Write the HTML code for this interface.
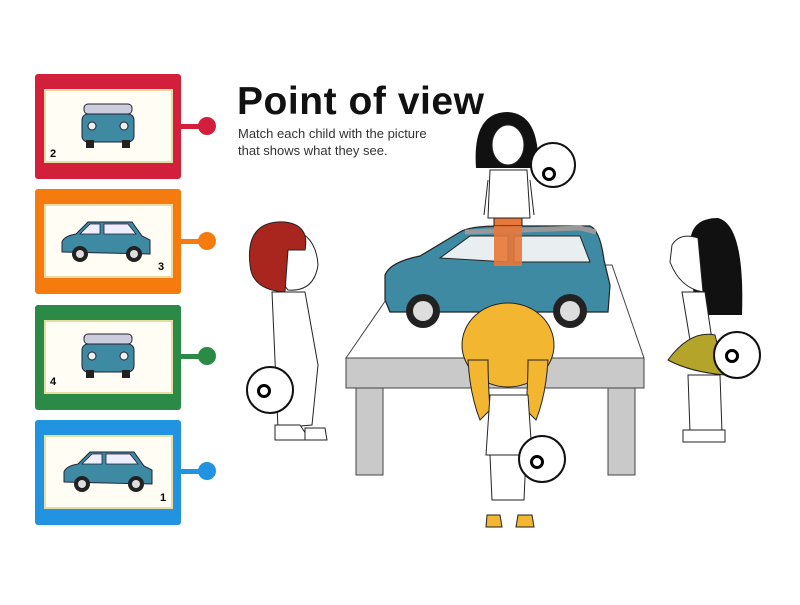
<!DOCTYPE html>
<html><head><style>
body{margin:0;width:800px;height:600px;background:#fff;overflow:hidden;font-family:"Liberation Sans",sans-serif}
</style></head><body>
<svg width="800" height="600" xmlns="http://www.w3.org/2000/svg" font-family="Liberation Sans, sans-serif">
<defs>
<g id="carS">
 <path d="M-44,8 L-44,-2 Q-42,-8 -30,-10 L-18,-22 L26,-22 L36,-8 L44,-4 L44,10 Z" fill="#3f8aa3" stroke="#223" stroke-width="1"/>
 <path d="M-16,-20 L-6,-20 L-6,-10 L-26,-10Z M-2,-20 L22,-20 L30,-10 L-2,-10Z" fill="#eef" stroke="#223" stroke-width="0.8"/>
 <circle cx="-26" cy="10" r="8" fill="#222"/><circle cx="-26" cy="10" r="4" fill="#ddd"/>
 <circle cx="28" cy="10" r="8" fill="#222"/><circle cx="28" cy="10" r="4" fill="#ddd"/>
</g>
<g id="carF">
 <rect x="-24" y="-24" width="48" height="10" rx="4" fill="#ccd" stroke="#223"/>
 <rect x="-26" y="-14" width="52" height="28" rx="6" fill="#3f8aa3" stroke="#223"/>
 <rect x="-22" y="12" width="8" height="8" fill="#222"/><rect x="14" y="12" width="8" height="8" fill="#222"/>
 <circle cx="-16" cy="-2" r="4" fill="#eee" stroke="#223"/><circle cx="16" cy="-2" r="4" fill="#eee" stroke="#223"/>
</g>
</defs>

<!-- cards -->
<g>
 <rect x="35" y="74" width="146" height="105" rx="3" fill="#d21f3c"/>
 <rect x="45" y="90" width="127" height="72" fill="#fffdf4" stroke="#e8dca0" stroke-width="2"/>
 <use href="#carF" x="108" y="128"/>
 <text x="50" y="157" font-size="11" font-weight="bold">2</text>
 <rect x="181" y="124" width="22" height="5" fill="#d21f3c"/><circle cx="207" cy="126" r="9" fill="#d21f3c"/>

 <rect x="35" y="189" width="146" height="105" rx="3" fill="#f57b0f"/>
 <rect x="45" y="205" width="127" height="72" fill="#fffdf4" stroke="#e8dca0" stroke-width="2"/>
 <use href="#carS" x="106" y="244"/>
 <text x="158" y="270" font-size="11" font-weight="bold">3</text>
 <rect x="181" y="239" width="22" height="5" fill="#f57b0f"/><circle cx="207" cy="241" r="9" fill="#f57b0f"/>

 <rect x="35" y="305" width="146" height="105" rx="3" fill="#2b8a45"/>
 <rect x="45" y="321" width="127" height="72" fill="#fffdf4" stroke="#e8dca0" stroke-width="2"/>
 <use href="#carF" x="108" y="358"/>
 <text x="50" y="385" font-size="11" font-weight="bold">4</text>
 <rect x="181" y="354" width="22" height="5" fill="#2b8a45"/><circle cx="207" cy="356" r="9" fill="#2b8a45"/>

 <rect x="35" y="420" width="146" height="105" rx="3" fill="#2293e0"/>
 <rect x="45" y="436" width="127" height="72" fill="#fffdf4" stroke="#e8dca0" stroke-width="2"/>
 <use href="#carS" x="108" y="474"/>
 <text x="160" y="501" font-size="11" font-weight="bold">1</text>
 <rect x="181" y="469" width="22" height="5" fill="#2293e0"/><circle cx="207" cy="471" r="9" fill="#2293e0"/>
</g>

<!-- title -->
<text x="237" y="114" font-size="39" font-weight="bold" fill="#111" textLength="247">Point of view</text>
<text x="238" y="138" font-size="13" fill="#333">Match each child with the picture</text>
<text x="238" y="155" font-size="13" fill="#333">that shows what they see.</text>

<!-- table -->
<polygon points="410,265 612,265 644,358 346,358" fill="#fff" stroke="#444" stroke-width="1"/>
<rect x="346" y="358" width="298" height="30" fill="#c9c9c9" stroke="#444"/>
<rect x="356" y="388" width="27" height="87" fill="#c9c9c9" stroke="#444"/>
<rect x="608" y="388" width="27" height="87" fill="#c9c9c9" stroke="#444"/>

<!-- top girl -->
<path d="M476,168 Q472,112 508,112 Q540,114 538,168 Z" fill="#111"/>
<ellipse cx="508" cy="145" rx="16" ry="20" fill="#fff" stroke="#222"/>
<path d="M490,170 L527,170 L530,218 L488,218Z" fill="#fff" stroke="#222"/>
<path d="M488,180 L484,215 M530,180 L534,215" stroke="#222" fill="none"/>
<rect x="494" y="218" width="28" height="48" fill="#e8773a" stroke="#222"/>

<!-- car -->
<path d="M385,300 L385,275 Q390,262 420,256 L460,232 Q470,226 500,226 L590,226 Q600,230 604,260 L610,285 L608,312 L390,312 Z" fill="#3f8aa3" stroke="#222" stroke-width="1.2"/>
<path d="M465,232 L580,228 L596,232" fill="none" stroke="#999" stroke-width="5"/>
<path d="M440,258 L470,236 L508,236 L508,262 Z M514,236 L580,236 L590,262 L514,262Z" fill="#e9eef0" stroke="#222"/>
<rect x="494" y="226" width="28" height="40" fill="#e8773a" opacity="0.9"/>
<circle cx="423" cy="311" r="17" fill="#222"/><circle cx="423" cy="311" r="10" fill="#ddd"/>
<circle cx="570" cy="311" r="17" fill="#222"/><circle cx="570" cy="311" r="10" fill="#ddd"/>

<!-- boy left -->
<path d="M286,228 Q316,232 318,265 Q314,292 288,290 Q270,270 286,228Z" fill="#fff" stroke="#222"/>
<path d="M250,265 Q245,220 285,222 Q310,225 305,250 L288,250 L285,292 Q252,290 250,265Z" fill="#a9261f" stroke="#222"/>
<path d="M272,292 L305,292 L318,365 L312,425 L278,428 Z" fill="#fff" stroke="#222"/>
<path d="M275,425 L300,425 L310,440 L275,440Z" fill="#fff" stroke="#222"/>
<path d="M305,428 L325,428 L327,440 L305,440Z" fill="#fff" stroke="#222"/>

<!-- girl right -->
<path d="M690,245 Q690,218 718,218 Q745,225 742,315 L695,315 Z" fill="#111"/>
<path d="M672,245 Q680,232 698,238 L703,292 Q680,288 670,262Z" fill="#fff" stroke="#222"/>
<path d="M682,292 L705,292 L712,340 L690,340Z" fill="#fff" stroke="#222"/>
<path d="M668,360 Q690,330 715,335 L725,375 Q690,372 668,360Z" fill="#b5a42a" stroke="#222"/>
<path d="M688,375 L720,375 L722,432 L690,432Z" fill="#fff" stroke="#222"/>
<path d="M683,430 L725,430 L725,442 L683,442Z" fill="#fff" stroke="#222"/>

<!-- bottom girl -->
<ellipse cx="508" cy="345" rx="46" ry="42" fill="#f2b630" stroke="#222"/>
<path d="M468,360 Q470,395 480,420 L490,410 Q488,380 488,360Z M548,360 Q546,395 536,420 L526,410 Q528,380 528,360Z" fill="#f2b630" stroke="#222"/>
<path d="M490,395 L528,395 L532,455 L486,455Z" fill="#fff" stroke="#222"/>
<path d="M490,455 L526,455 L524,500 L492,500Z" fill="#fff" stroke="#222"/>
<path d="M487,515 L500,515 L502,527 L486,527Z M518,515 L532,515 L534,527 L516,527Z" fill="#f2b630" stroke="#222"/>

<!-- target circles -->
<g fill="#fff" stroke="#111" stroke-width="2">
 <circle cx="553" cy="165" r="22"/><circle cx="270" cy="390" r="23"/>
 <circle cx="737" cy="355" r="23"/><circle cx="542" cy="459" r="23"/>
</g>
<g fill="none" stroke="#000" stroke-width="3">
 <circle cx="549" cy="174" r="5.5"/><circle cx="264" cy="391" r="5.5"/>
 <circle cx="732" cy="356" r="5.5"/><circle cx="537" cy="462" r="5.5"/>
</g>
</svg>
</body></html>
